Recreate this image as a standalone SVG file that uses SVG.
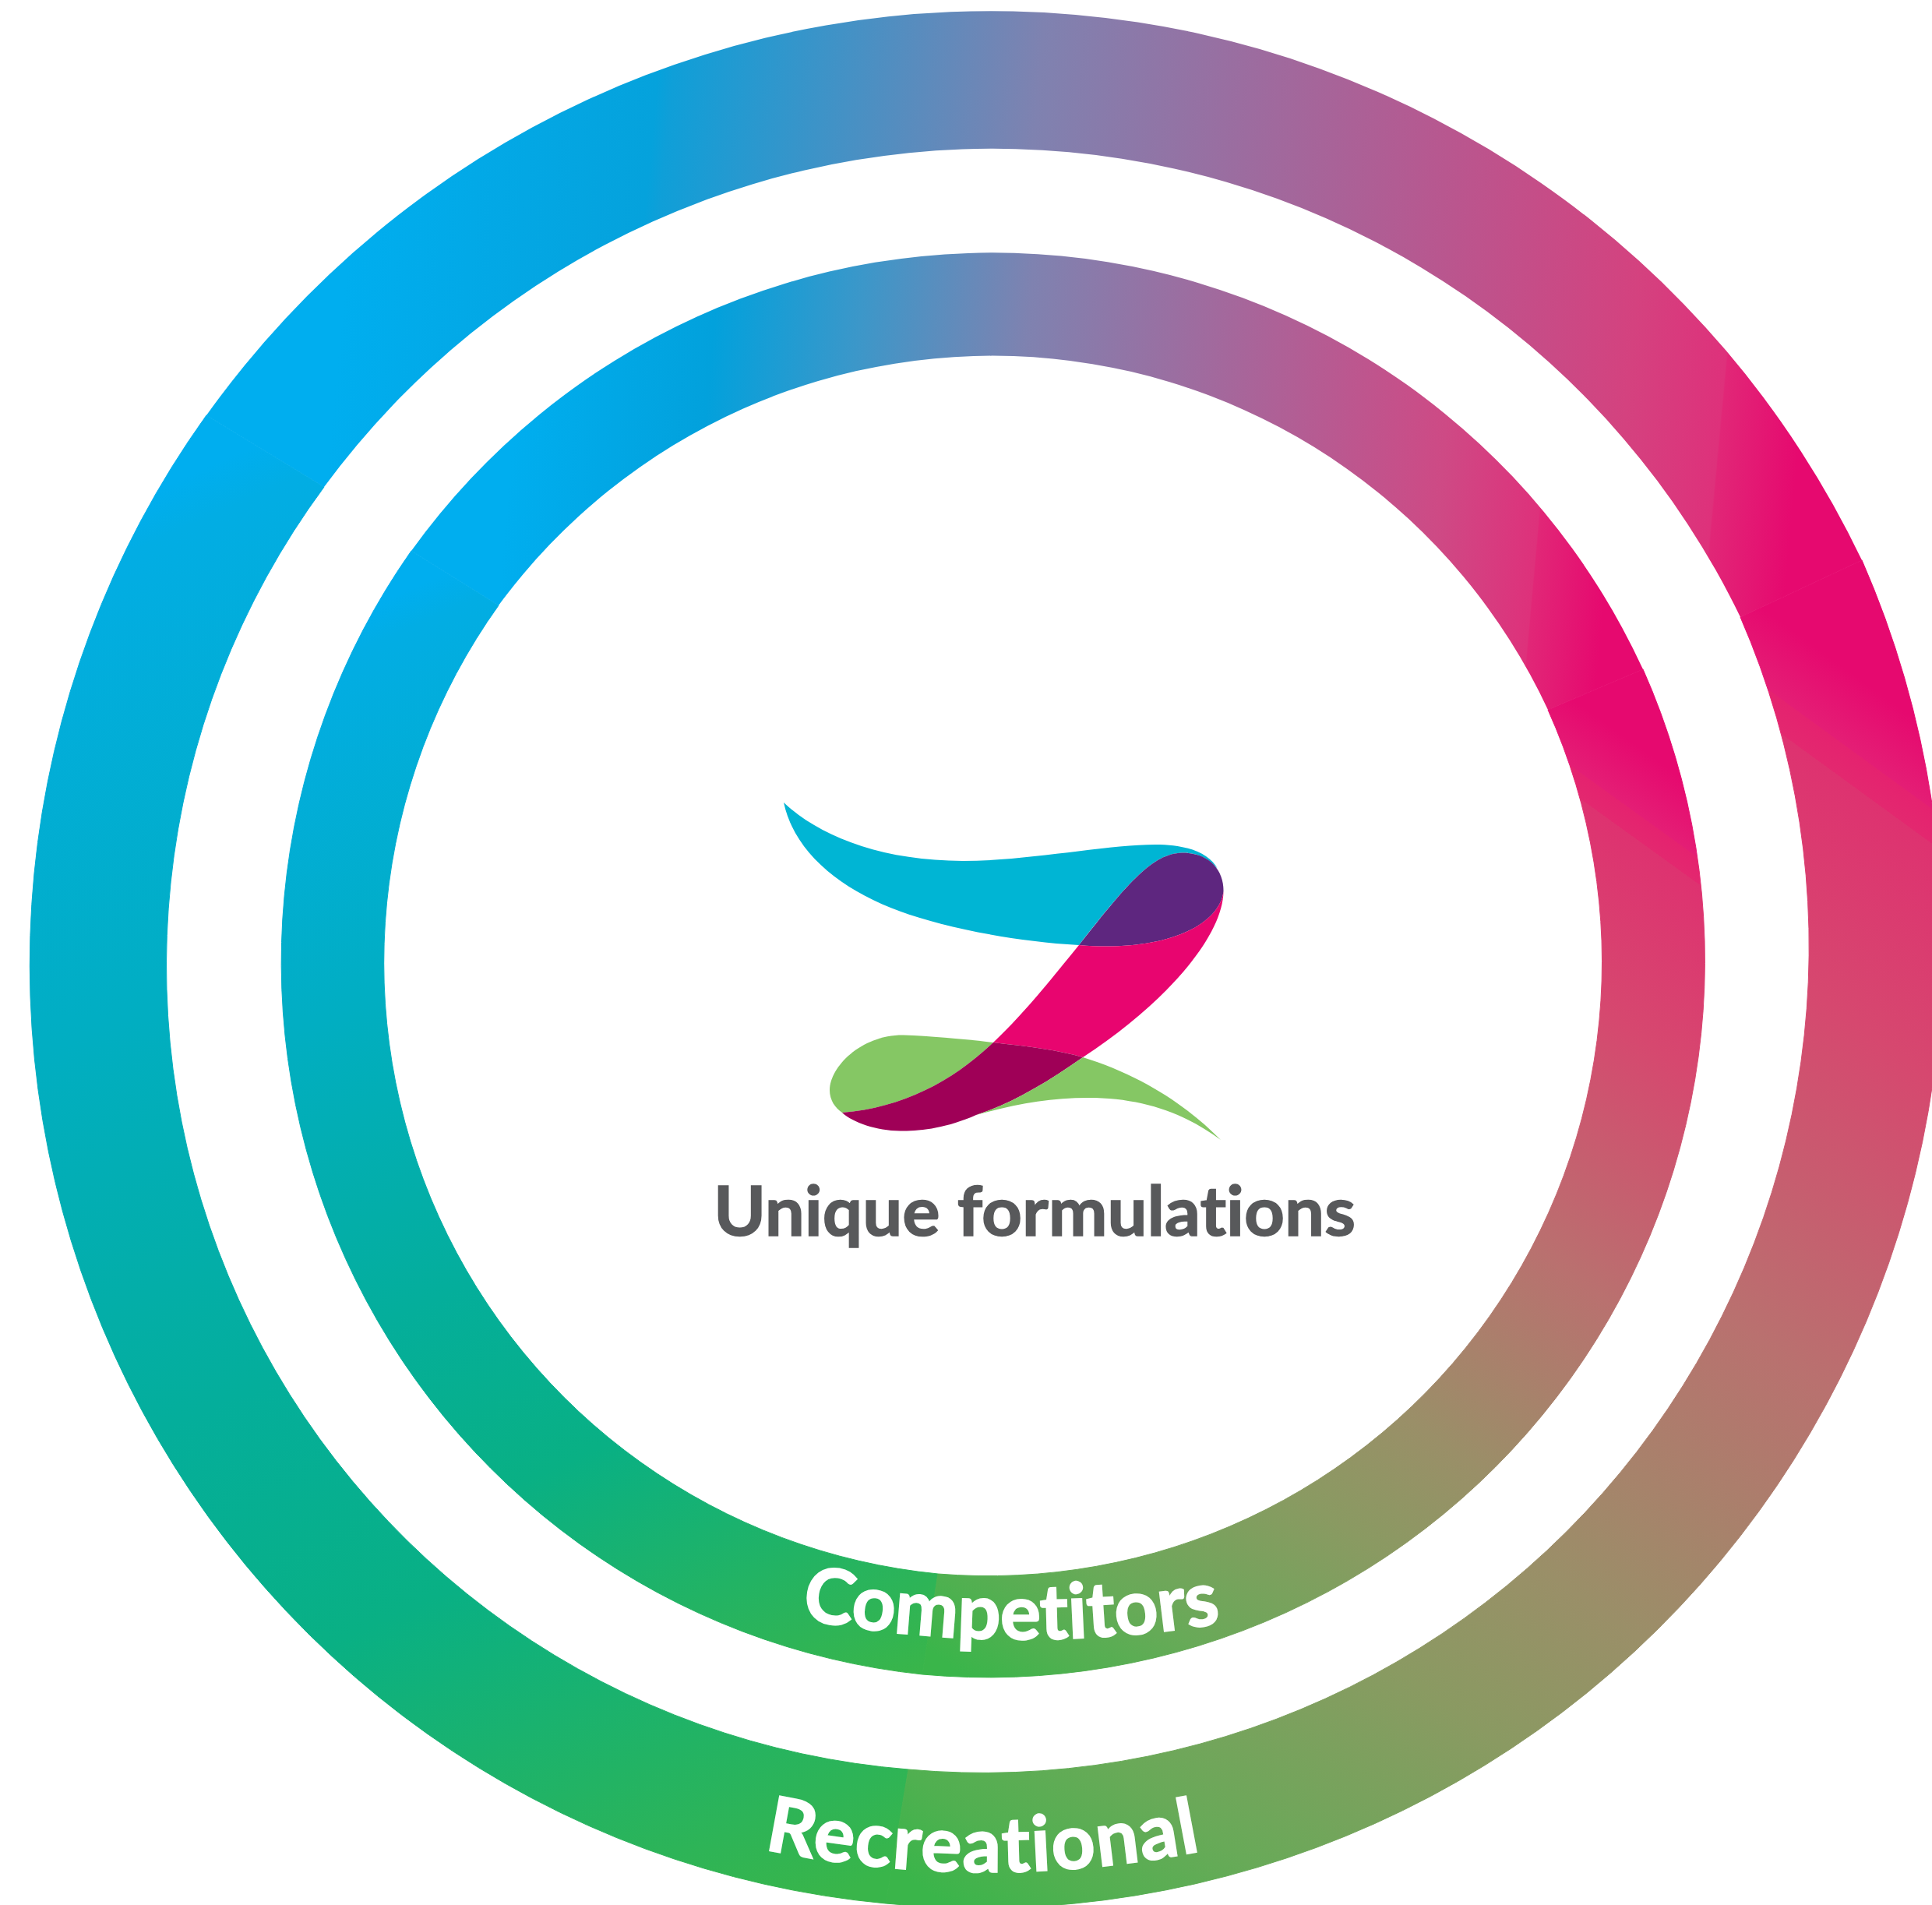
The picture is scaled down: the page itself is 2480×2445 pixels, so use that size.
<svg xmlns="http://www.w3.org/2000/svg" width="2480" height="2445" viewBox="0 0 2480 2445">
<style>
text{font-variant-ligatures:none;font-family:"Lato","Carlito","Liberation Sans",sans-serif;font-weight:700}
.ring-label{fill:#fff;stroke:#fff;stroke-width:2;font-size:98px}
.title{fill:#58595B;stroke:#58595B;stroke-width:1.500}
</style>
<defs>
<linearGradient id="oa" gradientUnits="userSpaceOnUse" x1="420" y1="600" x2="2290" y2="775">
<stop offset="0" stop-color="#00AEEF"/><stop offset=".2" stop-color="#05A2DC"/><stop offset=".21" stop-color="#0F9FD8"/><stop offset=".46" stop-color="#7F82B0"/><stop offset=".88" stop-color="#D4427F"/><stop offset=".945" stop-color="#DE317B"/><stop offset=".946" stop-color="#E12777"/><stop offset="1" stop-color="#E6096F"/>
</linearGradient>
<linearGradient id="ia" gradientUnits="userSpaceOnUse" x1="640" y1="760" x2="2070" y2="890">
<stop offset="0" stop-color="#00AEEF"/><stop offset=".17" stop-color="#02A1DC"/><stop offset=".3" stop-color="#3C97C9"/><stop offset=".45" stop-color="#7F82B0"/><stop offset=".83" stop-color="#CE4A85"/><stop offset=".92" stop-color="#DE317B"/><stop offset=".921" stop-color="#E12777"/><stop offset=".985" stop-color="#E6096F"/>
</linearGradient>
<linearGradient id="ob" gradientUnits="userSpaceOnUse" x1="330" y1="570" x2="1150" y2="2400">
<stop offset="0" stop-color="#00AEEF"/><stop offset=".03" stop-color="#02ADE4"/><stop offset=".3" stop-color="#01AEC2"/><stop offset=".55" stop-color="#04AE9B"/><stop offset=".72" stop-color="#09B084"/><stop offset=".87" stop-color="#22B364"/><stop offset="1" stop-color="#39B54A"/>
</linearGradient>
<linearGradient id="ib" gradientUnits="userSpaceOnUse" x1="560" y1="740" x2="1190" y2="2140">
<stop offset="0" stop-color="#00AEEF"/><stop offset=".03" stop-color="#02ADE4"/><stop offset=".3" stop-color="#01AEC2"/><stop offset=".55" stop-color="#04AE9B"/><stop offset=".72" stop-color="#09B084"/><stop offset=".87" stop-color="#22B364"/><stop offset="1" stop-color="#39B54A"/>
</linearGradient>
<linearGradient id="oc" gradientUnits="userSpaceOnUse" x1="2330" y1="780" x2="1150" y2="2400">
<stop offset=".02" stop-color="#E6096F"/><stop offset=".06" stop-color="#E41E75"/><stop offset=".0601" stop-color="#E5226F"/><stop offset=".078" stop-color="#E3286F"/><stop offset=".0781" stop-color="#DE3270"/><stop offset=".2" stop-color="#D6486F"/><stop offset=".4" stop-color="#B9716F"/><stop offset=".6" stop-color="#9A8F68"/><stop offset=".707" stop-color="#8A9A62"/><stop offset=".863" stop-color="#68AA58"/><stop offset=".945" stop-color="#50B050"/><stop offset="1" stop-color="#3AB54A"/>
</linearGradient>
<linearGradient id="ic" gradientUnits="userSpaceOnUse" x1="2060" y1="890" x2="1180" y2="2110">
<stop offset=".02" stop-color="#E6096F"/><stop offset=".067" stop-color="#E41E75"/><stop offset=".0671" stop-color="#E5226F"/><stop offset=".085" stop-color="#E3286F"/><stop offset=".0851" stop-color="#DE3270"/><stop offset=".22" stop-color="#D6486F"/><stop offset=".42" stop-color="#B9716F"/><stop offset=".6" stop-color="#9A8F68"/><stop offset=".707" stop-color="#8A9A62"/><stop offset=".863" stop-color="#68AA58"/><stop offset=".94" stop-color="#50B050"/><stop offset="1" stop-color="#3AB54A"/>
</linearGradient>
<path id="arc-competitors" d="M1000 2072Q1300 2134 1610 2076"/>
<path id="arc-recreational" d="M960 2369Q1265 2436 1570 2370"/>
</defs>
<g id="ring-outer">
<path fill="url(#ob)" stroke="url(#ob)" d="M265 533A1210 1210 0 0 0 1137 2443L1166 2271A1034.500 1034.500 0 0 1 416 625Z"/>
<path fill="url(#oc)" stroke="url(#oc)" d="M1137 2443A1235 1235 0 0 0 2390 719L2234 792A1060 1060 0 0 1 1166 2271Z"/>
<path fill="url(#oa)" d="M265 533A1238 1238 0 0 1 2390 719L2234 792A1066 1066 0 0 0 416 625Z"/>
</g>
<g id="ring-inner">
<path fill="url(#ib)" stroke="url(#ib)" d="M528 707A919 919 0 0 0 1184 2149L1204 2020A788 788 0 0 1 640 777Z"/>
<path fill="url(#ic)" stroke="url(#ic)" d="M1184 2149A920 920 0 0 0 2109 859L1987 911A788 788 0 0 1 1204 2020Z"/>
<path fill="url(#ia)" d="M528 707A919 919 0 0 1 2109 859L1987 911A787 787 0 0 0 640 777Z"/>
</g>
<g id="logo">
<path fill="#00B5D4" d="M1006 1030C1050 1072 1130 1105 1236 1105C1320 1105 1420 1084 1483 1084C1525 1084 1552 1095 1563 1115C1550 1100 1535 1094 1517 1094.500C1480 1096 1450 1130 1385 1213C1300 1208 1210 1190 1155 1169.500C1080 1142 1020 1095 1006 1030Z"/>
<path fill="#5E267F" d="M1385 1213C1450 1130 1480 1096 1517 1094.500C1550 1094 1571 1115 1570.500 1144C1565 1190 1490 1222 1385 1213Z"/>
<path fill="#E8056F" d="M1385 1213C1490 1222 1565 1190 1570.500 1144C1570 1200 1500 1285 1390 1357C1360 1348 1320 1343 1275 1338C1315 1300 1345 1262 1385 1213Z"/>
<path fill="#85C764" d="M1275 1338C1230 1333 1195 1330 1160 1328.600C1105 1328 1065 1370 1065 1399C1065 1412 1072 1422 1081 1428C1160 1422 1225 1386 1275 1338Z"/>
<path fill="#9F0057" d="M1081 1428C1160 1422 1225 1386 1275 1338C1320 1343 1360 1348 1390 1357C1340 1392 1295 1418 1253 1431C1215 1448 1180 1452 1155.500 1451.500C1125 1451 1095 1441 1081 1428Z"/>
<path fill="#85C764" d="M1390 1357C1465 1380 1525 1420 1567 1463C1520 1428 1465 1409 1397 1409C1345 1409 1300 1418 1253 1431C1295 1418 1340 1392 1390 1357Z"/>
</g>
<g id="labels">
<text class="title" x="916" y="1586" font-size="88" textLength="824" lengthAdjust="spacingAndGlyphs">Unique formulations</text>
<text class="ring-label"><textPath href="#arc-competitors" startOffset="28">Competitors</textPath></text>
<text class="ring-label" letter-spacing="2"><textPath href="#arc-recreational" startOffset="21">Recreational</textPath></text>
</g>
</svg>
